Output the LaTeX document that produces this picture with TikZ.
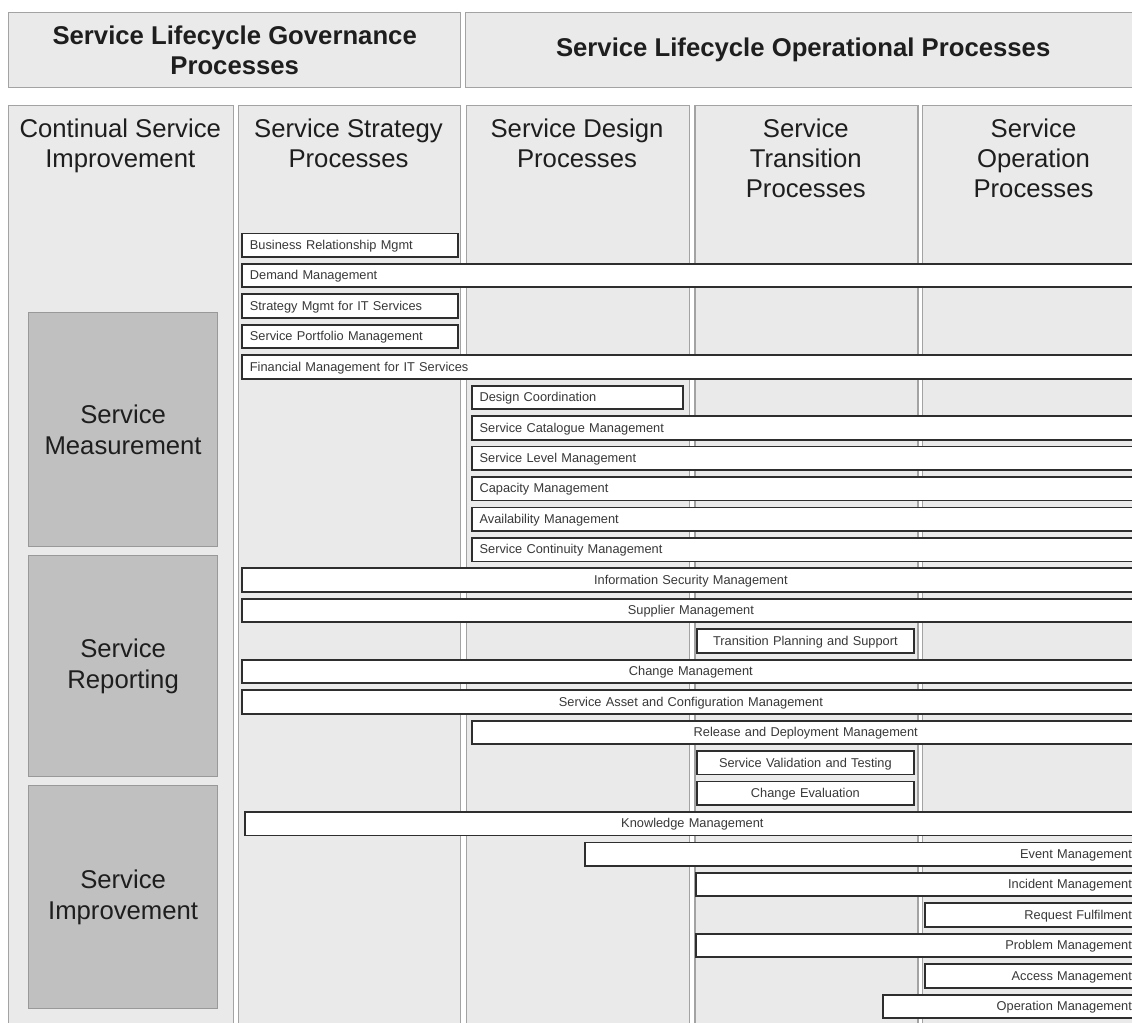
\documentclass[tikz,border=0pt]{standalone}
\usepackage{fontspec}
\setmainfont{Liberation Sans}
\definecolor{panel}{HTML}{EAEAEA}
\definecolor{panelline}{HTML}{A3A3A3}
\definecolor{subfill}{HTML}{C0C0C0}
\definecolor{subline}{HTML}{999999}
\definecolor{boxline}{HTML}{2E2E2E}
\definecolor{ink}{HTML}{1E1E1E}
\definecolor{smallink}{HTML}{383838}
\tikzset{
  panelbox/.style={draw=panelline, fill=panel, line width=0.7pt, inner sep=0pt, anchor=north west},
  headtext/.style={font=\bfseries\fontsize{12.85}{15}\selectfont, text=ink, align=center},
  coltitle/.style={font=\fontsize{12.85}{15}\selectfont, text=ink, align=center, anchor=north, inner sep=0pt},
  subbox/.style={draw=subline, fill=subfill, line width=0.6pt, anchor=north west, inner sep=0pt,
    font=\fontsize{12.85}{15.5}\selectfont, text=ink, align=center},
  procbox/.style={draw=boxline, fill=white, line width=0.9pt, anchor=north west,
    inner xsep=4pt, inner ysep=0pt, minimum height=11.75pt, text height=4.6pt, text depth=0.4pt,
    font=\fontsize{6.4}{7.5}\selectfont, text=smallink}
}
% process bar: name, left x, right x, row, alignment, label
\newcommand\proc[6]{%
  \pgfmathsetmacro\procw{(#3-#2)*0.5-8}%
  \node[procbox, text width=\procw pt, align=#5] (#1) at (#2,{231.9+30.45*#4+0.6}) {#6};}
\begin{document}
\begin{tikzpicture}[x=0.5pt, y=-0.5pt]
  \useasboundingbox (0,0) rectangle (1132,1023);
  \fill[white] (0,0) rectangle (1132,1023);
  \clip (0,0) rectangle (1132,1023);

  % top banners
  \node[panelbox, headtext, minimum width=226pt, minimum height=37.5pt] (gov) at (8,12)
    {Service Lifecycle Governance\\Processes};
  \node[panelbox, headtext, minimum width=337.5pt, minimum height=37.5pt] (ops) at (465,12)
    {Service Lifecycle Operational Processes};

  % lifecycle columns
  \node[panelbox, minimum width=112.25pt, minimum height=470pt] (csi) at (8,104.5) {};
  \node[panelbox, minimum width=111pt, minimum height=470pt] (ss) at (237.5,104.5) {};
  \node[panelbox, minimum width=111.5pt, minimum height=470pt] (sd) at (465.5,104.5) {};
  \node[panelbox, minimum width=111.5pt, minimum height=470pt] (st) at (694.3,104.5) {};
  \node[panelbox, minimum width=111.5pt, minimum height=470pt] (so) at (922,104.5) {};

  \node[coltitle] (csiT) at (120.25,118) {Continual Service\\Improvement};
  \node[coltitle] (ssT) at (348.5,118) {Service Strategy\\Processes};
  \node[coltitle] (sdT) at (577,118) {Service Design\\Processes};
  \node[coltitle] (stT) at (805.8,118) {Service\\Transition\\Processes};
  \node[coltitle] (soT) at (1033.5,118) {Service\\Operation\\Processes};

  % continual improvement stages
  \node[subbox, minimum width=94.5pt, minimum height=117pt] (meas) at (28,312) {Service\\Measurement};
  \node[subbox, minimum width=94.5pt, minimum height=110.5pt] (rep) at (28,555) {Service\\Reporting};
  \node[subbox, minimum width=94.5pt, minimum height=111.5pt] (imp) at (28,785) {Service\\Improvement};

  % processes
  \proc{brm}{241}{456.7}{0}{left}{Business Relationship Mgmt}
  \proc{dem}{241}{1139}{1}{left}{Demand Management}
  \proc{smit}{241}{456.7}{2}{left}{Strategy Mgmt for IT Services}
  \proc{spm}{241}{456.7}{3}{left}{Service Portfolio Management}
  \proc{fin}{241}{1139}{4}{left}{Financial Management for IT Services}
  \proc{dc}{470.7}{681.7}{5}{left}{Design Coordination}
  \proc{scm}{470.7}{1139}{6}{left}{Service Catalogue Management}
  \proc{slm}{470.7}{1139}{7}{left}{Service Level Management}
  \proc{cap}{470.7}{1139}{8}{left}{Capacity Management}
  \proc{avm}{470.7}{1139}{9}{left}{Availability Management}
  \proc{scont}{470.7}{1139}{10}{left}{Service Continuity Management}
  \proc{ism}{241}{1139}{11}{center}{Information Security Management}
  \proc{sup}{241}{1139}{12}{center}{Supplier Management}
  \proc{tps}{695.7}{913.3}{13}{center}{Transition Planning and Support}
  \proc{chg}{241}{1139}{14}{center}{Change Management}
  \proc{sacm}{241}{1139}{15}{center}{Service Asset and Configuration Management}
  \proc{rdm}{470.7}{1139}{16}{center}{Release and Deployment Management}
  \proc{svt}{695.7}{913.3}{17}{center}{Service Validation and Testing}
  \proc{cev}{695.7}{913.3}{18}{center}{Change Evaluation}
  \proc{km}{244}{1139}{19}{center}{Knowledge Management}
  \proc{evm}{584.3}{1139}{20}{right}{Event Management}
  \proc{inc}{695.3}{1139}{21}{right}{Incident Management}
  \proc{req}{924.3}{1139}{22}{right}{Request Fulfilment}
  \proc{prb}{695.3}{1139}{23}{right}{Problem Management}
  \proc{acc}{924.3}{1139}{24}{right}{Access Management}
  \proc{opm}{882.3}{1139}{25}{right}{Operation Management}
\end{tikzpicture}
\end{document}
